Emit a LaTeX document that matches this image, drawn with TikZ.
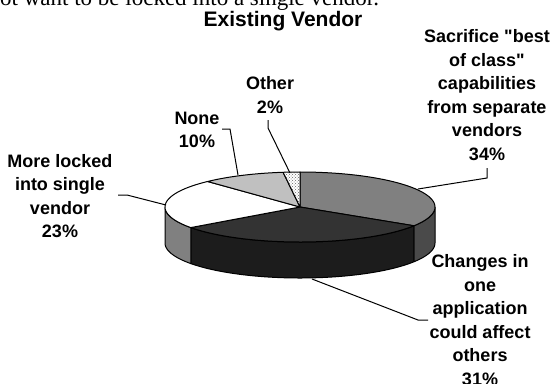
\documentclass[tikz,border=0pt]{standalone}
\usepackage{fontspec}
\setmainfont{Liberation Serif}
\newfontfamily\arialfont{Liberation Sans}
\usetikzlibrary{patterns}
\definecolor{sacTop}{HTML}{808080}
\definecolor{sacSide}{HTML}{4A4A4A}
\definecolor{chgTop}{HTML}{333333}
\definecolor{chgSide}{HTML}{1C1C1C}
\definecolor{lockTop}{HTML}{FFFFFF}
\definecolor{lockSide}{HTML}{808080}
\definecolor{noneTop}{HTML}{C0C0C0}
\begin{document}
\begin{tikzpicture}[x=1pt,y=-1pt,
  edge/.style={draw=black,line width=1pt,line join=round},
  lead/.style={draw=black,line width=1pt,line join=miter},
  lbl/.style={font=\arialfont\bfseries\fontsize{18}{23.5}\selectfont,align=center,inner sep=0pt}]
\useasboundingbox (0,0) rectangle (553,383);
\clip (0,0) rectangle (553,383);
\def\cx{300}\def\cy{207}\def\rx{135}\def\ry{35}\def\th{36}
% sides
\path[edge,fill=sacSide] plot[domain=0:-32.4,samples=30] ({\cx+\rx*cos(\x)},{\cy-\ry*sin(\x)})
  -- plot[domain=-32.4:0,samples=30] ({\cx+\rx*cos(\x)},{\cy+\th-\ry*sin(\x)}) -- cycle;
\path[edge,fill=chgSide] plot[domain=-32.4:-144,samples=60] ({\cx+\rx*cos(\x)},{\cy-\ry*sin(\x)})
  -- plot[domain=-144:-32.4,samples=60] ({\cx+\rx*cos(\x)},{\cy+\th-\ry*sin(\x)}) -- cycle;
\path[edge,fill=lockSide] plot[domain=-144:-180,samples=30] ({\cx+\rx*cos(\x)},{\cy-\ry*sin(\x)})
  -- plot[domain=-180:-144,samples=30] ({\cx+\rx*cos(\x)},{\cy+\th-\ry*sin(\x)}) -- cycle;
% top slices
\path[edge,fill=sacTop] (\cx,\cy) -- plot[domain=90:-32.4,samples=60] ({\cx+\rx*cos(\x)},{\cy-\ry*sin(\x)}) -- cycle;
\path[edge,fill=chgTop] (\cx,\cy) -- plot[domain=-32.4:-144,samples=60] ({\cx+\rx*cos(\x)},{\cy-\ry*sin(\x)}) -- cycle;
\path[edge,fill=lockTop] (\cx,\cy) -- plot[domain=-144:-226.8,samples=60] ({\cx+\rx*cos(\x)},{\cy-\ry*sin(\x)}) -- cycle;
\path[edge,fill=noneTop] (\cx,\cy) -- plot[domain=133.2:97.2,samples=30] ({\cx+\rx*cos(\x)},{\cy-\ry*sin(\x)}) -- cycle;
\path[edge,preaction={fill=white},pattern=crosshatch dots,pattern color=black!60] (\cx,\cy) -- plot[domain=97.2:90,samples=10] ({\cx+\rx*cos(\x)},{\cy-\ry*sin(\x)}) -- cycle;
% texts
\node[anchor=base west,inner sep=0pt,font=\fontsize{23}{27}\selectfont] (top) at (-11.5,5) {not want to be locked into a single vendor.};
\node[font=\arialfont\bfseries\fontsize{21}{25}\selectfont,inner sep=0pt] (title) at (283,21) {Existing Vendor};
\node[lbl] (sac) at (487,95) {Sacrifice "best\\of class"\\capabilities\\from separate\\vendors\\34\%};
\node[lbl] (chg) at (480,320) {Changes in\\one\\application\\could affect\\others\\31\%};
\node[lbl] (lock) at (60,196) {More locked\\into single\\vendor\\23\%};
\node[lbl] (none) at (197,130) {None\\10\%};
\node[lbl] (oth) at (270,95) {Other\\2\%};
% leader points
\coordinate (sacA) at (487,168); \coordinate (sacB) at (487,178); \coordinate (sacE) at (418,189);
\coordinate (chgA) at (428,320); \coordinate (chgB) at (418,320); \coordinate (chgE) at (312,279);
\coordinate (lockA) at (118,195); \coordinate (lockB) at (127,195); \coordinate (lockE) at (166,205);
\coordinate (noneA) at (222,129); \coordinate (noneB) at (230,129); \coordinate (noneE) at (238,175);
\coordinate (othA) at (268,120); \coordinate (othB) at (268,128); \coordinate (othE) at (290,173);
\draw[lead] (sacA) -- (sacB) -- (sacE);
\draw[lead] (chgA) -- (chgB) -- (chgE);
\draw[lead] (lockA) -- (lockB) -- (lockE);
\draw[lead] (noneA) -- (noneB) -- (noneE);
\draw[lead] (othA) -- (othB) -- (othE);
\end{tikzpicture}
\end{document}
